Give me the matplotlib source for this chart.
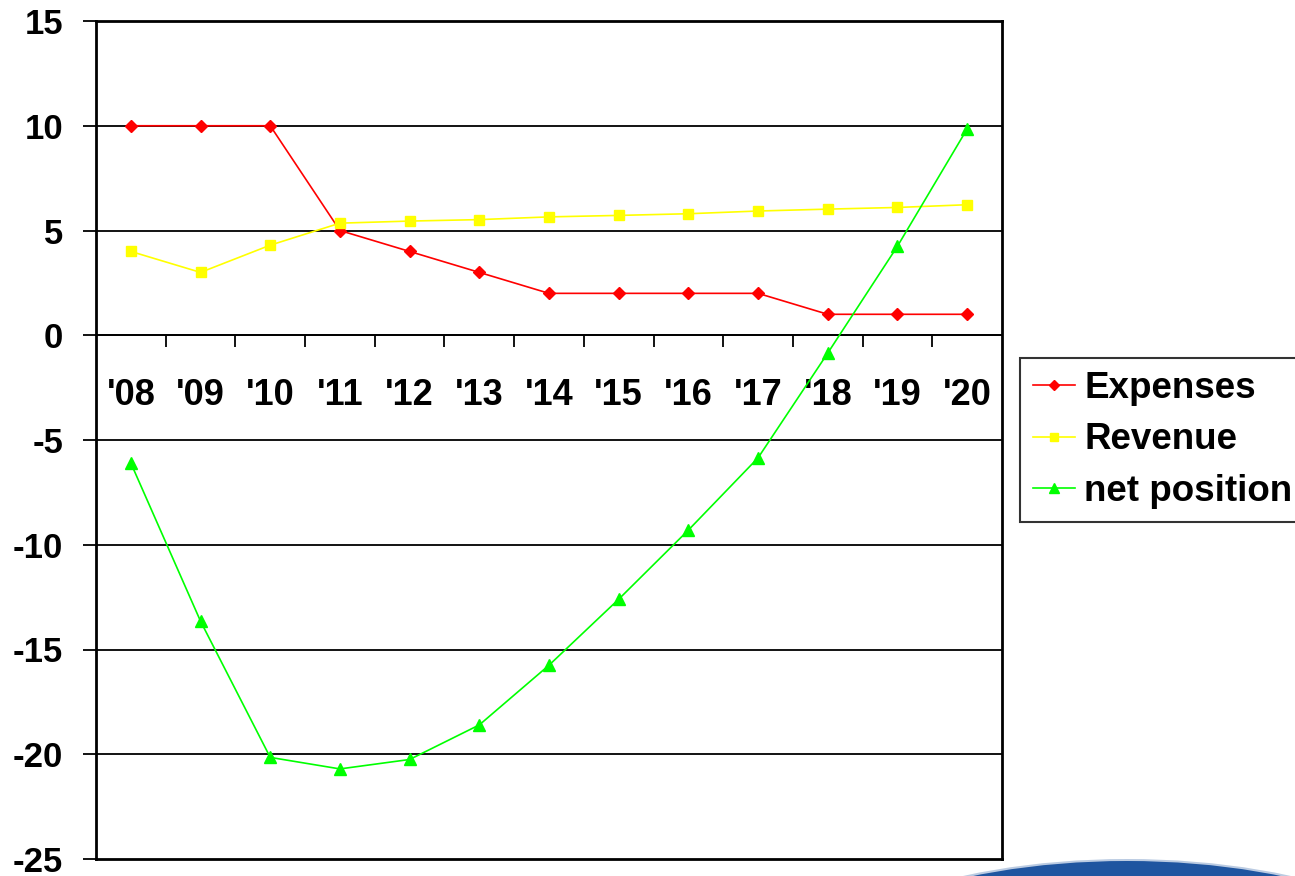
import matplotlib

matplotlib.use("Agg")
import matplotlib.pyplot as plt
from matplotlib.patches import Ellipse

plt.rcParams["font.family"] = ["Liberation Sans", "DejaVu Sans"]
plt.rcParams["font.weight"] = "bold"

years = ["'08", "'09", "'10", "'11", "'12", "'13", "'14",
         "'15", "'16", "'17", "'18", "'19", "'20"]
expenses = [10, 10, 10, 5, 4, 3, 2, 2, 2, 2, 1, 1, 1]
revenue = [4.0, 3.0, 4.3, 5.35, 5.45, 5.52, 5.65, 5.72, 5.8, 5.93, 6.02, 6.1, 6.23]
net_position = [-6.1, -13.65, -20.15, -20.7, -20.25, -18.6, -15.75,
                -12.6, -9.3, -5.85, -0.85, 4.25, 9.85]
y_ticks = [-25, -20, -15, -10, -5, 0, 5, 10, 15]

fig = plt.figure(figsize=(12.95, 8.76), dpi=100)
ax = fig.add_axes([96 / 1295, 1 - 859 / 876, 906 / 1295, 838 / 876])

x = list(range(len(years)))
ax.plot(x, expenses, color="#ff0000", lw=1.2, marker="D", ms=6,
        label="Expenses", zorder=4)
ax.plot(x, revenue, color="#ffff00", lw=1.2, marker="s", ms=6.5,
        label="Revenue", zorder=4)
ax.plot(x, net_position, color="#00ff00", lw=1.2, marker="^", ms=8,
        label="net position", zorder=4)

ax.set_xlim(-0.5, len(years) - 0.5)
ax.set_ylim(-25, 15)

# horizontal grid
for v in y_ticks[1:-1]:
    ax.axhline(v, color="black", lw=1.3, zorder=1)

# x axis crosses at zero, labels sit below it inside the plot
for side in ["left", "right", "top", "bottom"]:
    ax.spines[side].set_linewidth(2)
    ax.spines[side].set_color("black")
ax.spines["bottom"].set_position(("data", 0))
ax.spines["bottom"].set_linewidth(1.3)
ax.axhline(-25, color="black", lw=2, clip_on=False, zorder=5)

ax.set_xticks(x)
ax.set_xticklabels(years, fontsize=26, fontweight="bold")
ax.tick_params(axis="x", which="major", length=0, pad=31)
ax.set_xticks([i + 0.5 for i in x[:-1]], minor=True)
ax.tick_params(axis="x", which="minor", direction="out", length=8.5,
               width=1.3, color="black")

ax.set_yticks(y_ticks)
ax.set_yticklabels([str(v) for v in y_ticks], fontsize=25, fontweight="bold")
ax.tick_params(axis="y", direction="out", length=9.5, width=1.3, pad=14)

leg = fig.legend(loc="upper left", bbox_to_anchor=(1020 / 1295, 1 - 358 / 876),
                 prop={"weight": "bold", "size": 26.5},
                 frameon=True, fancybox=False, borderpad=0.35,
                 handlelength=1.15, handletextpad=0.25, labelspacing=0.45,
                 borderaxespad=0)
leg.get_frame().set_edgecolor("black")
leg.get_frame().set_linewidth(1.5)
for h in leg.legend_handles:
    h.set_markersize(h.get_markersize() * 0.9)

# partial logo arc in the lower right corner
fig.add_artist(Ellipse((1127 / 1295, 1 - 1000 / 876), 690 / 1295, 282 / 876,
                       transform=fig.transFigure, color="#1f55a0",
                       alpha=0.3, lw=0, zorder=0))
fig.add_artist(Ellipse((1127 / 1295, 1 - 1001 / 876), 684 / 1295, 280 / 876,
                       transform=fig.transFigure, color="#1f55a0",
                       lw=0, zorder=0))

fig.savefig("out.png", dpi=100)
